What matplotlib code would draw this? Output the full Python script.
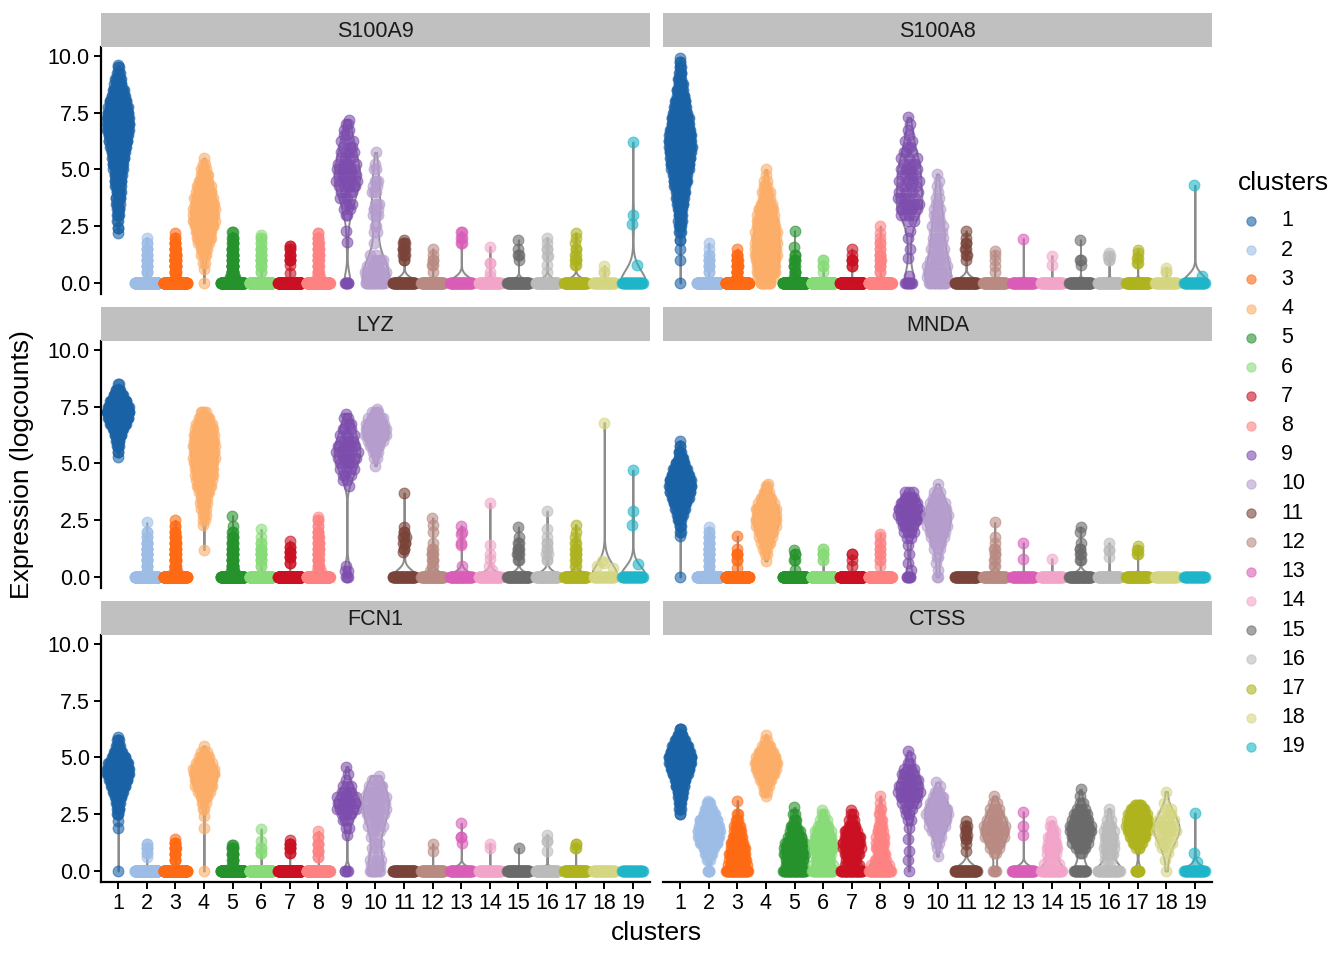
import numpy as np
import matplotlib
matplotlib.use("Agg")
import matplotlib.pyplot as plt

plt.rcParams['font.family'] = ['Liberation Sans', 'DejaVu Sans']

clusters = ["1", "2", "3", "4", "5", "6", "7", "8", "9", "10",
            "11", "12", "13", "14", "15", "16", "17", "18", "19"]
cluster_colors = ["#1A62A6", "#9DBDE6", "#FF6A14", "#FDAE68", "#25922B", "#88DC78",
                  "#CA1022", "#FF8282", "#7D4DAE", "#B59DCD", "#7A4339", "#B98A82",
                  "#DA5DB8", "#F2A5C9", "#6A6A6A", "#BBBBBB", "#AEB31E", "#D5D681",
                  "#1EB5C9"]
genes = ["S100A9", "S100A8", "LYZ", "MNDA", "FCN1", "CTSS"]

# each cluster: list of (logcounts value, number of cells)
s100a9 = [
    [(2.2, 1), (2.4, 2), (2.75, 2), (3.0, 4), (3.25, 4), (3.5, 5), (3.75, 6), (4.0, 7), (4.25, 8),
     (4.5, 9), (4.75, 10), (5.0, 12), (5.25, 14), (5.5, 16), (5.75, 18), (6.0, 21), (6.25, 24),
     (6.5, 27), (6.75, 29), (7.0, 30), (7.25, 30), (7.5, 29), (7.75, 26), (8.0, 22), (8.25, 18),
     (8.5, 14), (8.75, 10), (9.0, 7), (9.25, 4), (9.5, 2), (9.6, 1)],
    [(0, 300), (0.5, 3), (0.75, 4), (1.0, 4), (1.25, 3), (1.5, 3), (1.75, 2), (2.0, 1)],
    [(0, 300), (0.25, 2), (0.5, 6), (0.75, 10), (1.0, 12), (1.25, 10), (1.5, 6), (1.75, 4), (2.0, 2), (2.2, 1)],
    [(0, 1), (0.6, 1), (0.9, 2), (1.25, 4), (1.5, 6), (1.75, 8), (2.0, 11), (2.25, 13), (2.5, 15),
     (2.75, 16), (3.0, 17), (3.25, 16), (3.5, 15), (3.75, 14), (4.0, 12), (4.25, 10), (4.5, 8),
     (4.75, 6), (5.0, 4), (5.25, 2), (5.5, 1)],
    [(0, 250), (0.25, 8), (0.5, 10), (0.75, 10), (1.0, 8), (1.25, 7), (1.5, 5), (1.75, 4), (2.0, 3), (2.25, 2)],
    [(0, 220), (0.5, 2), (0.75, 3), (1.0, 4), (1.25, 3), (1.5, 3), (1.75, 2), (2.0, 2), (2.1, 1)],
    [(0, 200), (0.45, 1), (0.8, 1), (1.0, 3), (1.25, 3), (1.5, 2), (1.65, 2)],
    [(0, 200), (0.25, 3), (0.5, 4), (0.75, 5), (1.0, 5), (1.25, 5), (1.5, 5), (1.75, 4), (2.0, 3), (2.2, 2)],
    [(0, 6), (1.8, 1), (2.3, 1), (3.0, 2), (3.25, 2), (3.5, 3), (3.75, 3), (4.0, 4), (4.25, 5), (4.5, 6),
     (4.75, 6), (5.0, 6), (5.25, 5), (5.5, 4), (5.75, 4), (6.0, 3), (6.25, 3), (6.5, 2), (6.75, 2),
     (7.0, 2), (7.2, 1)],
    [(0, 20), (0.25, 8), (0.5, 8), (0.75, 6), (1.0, 5), (1.25, 2), (1.75, 1), (2.25, 2), (2.5, 2),
     (3.0, 3), (3.25, 3), (3.5, 3), (4.0, 3), (4.25, 2), (4.5, 3), (5.0, 2), (5.25, 1), (5.75, 1)],
    [(0, 60), (1.0, 2), (1.25, 3), (1.5, 4), (1.75, 3), (1.9, 1)],
    [(0, 70), (0.5, 1), (0.8, 2), (1.0, 2), (1.25, 1), (1.5, 1)],
    [(0, 50), (1.75, 2), (2.0, 2), (2.25, 2)],
    [(0, 50), (0.3, 1), (0.5, 1), (0.9, 2), (1.6, 1)],
    [(0, 60), (1.0, 1), (1.25, 2), (1.5, 1), (1.9, 1)],
    [(0, 60), (0.5, 1), (0.8, 1), (1.2, 2), (1.5, 2), (1.75, 1), (2.0, 1)],
    [(0, 70), (0.8, 2), (1.0, 3), (1.25, 2), (1.5, 2), (1.75, 1), (2.0, 1), (2.2, 1)],
    [(0, 40), (0.5, 2), (0.75, 1)],
    [(0, 30), (0.8, 1), (2.6, 1), (3.0, 1), (6.2, 1)],
]

s100a8 = [
    [(0, 1), (1.0, 1), (1.5, 1), (1.9, 2), (2.25, 3), (2.5, 4), (2.75, 5), (3.0, 6), (3.25, 7), (3.5, 9),
     (3.75, 11), (4.0, 13), (4.25, 15), (4.5, 18), (4.75, 21), (5.0, 24), (5.25, 27), (5.5, 29),
     (5.75, 31), (6.0, 32), (6.25, 32), (6.5, 31), (6.75, 29), (7.0, 26), (7.25, 23), (7.5, 20),
     (7.75, 17), (8.0, 14), (8.25, 11), (8.5, 9), (8.75, 7), (9.0, 5), (9.25, 4), (9.5, 3), (9.75, 2), (9.9, 1)],
    [(0, 300), (0.5, 2), (0.75, 3), (1.0, 3), (1.25, 2), (1.5, 1), (1.75, 1)],
    [(0, 300), (0.25, 4), (0.5, 6), (0.75, 6), (1.0, 5), (1.25, 3), (1.5, 1)],
    [(0, 12), (0.25, 10), (0.5, 12), (0.75, 13), (1.0, 14), (1.25, 14), (1.5, 14), (1.75, 14), (2.0, 14),
     (2.25, 13), (2.5, 13), (2.75, 12), (3.0, 11), (3.25, 10), (3.5, 8), (3.75, 6), (4.0, 5), (4.25, 3),
     (4.5, 2), (4.75, 1), (5.0, 1)],
    [(0, 250), (0.25, 2), (0.5, 3), (0.75, 3), (1.0, 3), (1.25, 2), (1.6, 1), (2.3, 1)],
    [(0, 220), (0.5, 1), (0.75, 2), (1.0, 2)],
    [(0, 200), (0.75, 2), (1.0, 3), (1.25, 1), (1.5, 1)],
    [(0, 200), (0.5, 2), (0.75, 3), (1.0, 3), (1.25, 3), (1.5, 2), (1.75, 2), (2.0, 1), (2.2, 1), (2.5, 1)],
    [(0, 8), (0.3, 1), (1.1, 1), (1.5, 1), (2.0, 1), (2.3, 1), (2.75, 2), (3.0, 4), (3.25, 6), (3.5, 6),
     (3.75, 5), (4.0, 4), (4.25, 4), (4.5, 4), (4.75, 5), (5.0, 5), (5.25, 4), (5.5, 3), (5.75, 3),
     (6.0, 2), (6.25, 2), (6.5, 1), (6.75, 1), (7.0, 1), (7.3, 1)],
    [(0, 15), (0.25, 8), (0.5, 7), (0.75, 6), (1.0, 5), (1.25, 5), (1.5, 4), (1.75, 4), (2.0, 4), (2.25, 3),
     (2.5, 3), (2.75, 3), (3.0, 3), (3.25, 2), (3.5, 2), (3.75, 2), (4.0, 1), (4.25, 1), (4.5, 1), (4.8, 1)],
    [(0, 60), (1.0, 1), (1.25, 2), (1.5, 2), (1.75, 2), (2.0, 1), (2.3, 1)],
    [(0, 70), (0.5, 1), (0.75, 1), (1.0, 1), (1.25, 1), (1.4, 1)],
    [(0, 50), (1.95, 1)],
    [(0, 50), (0.8, 1), (1.2, 1)],
    [(0, 60), (0.8, 1), (1.0, 2), (1.9, 1)],
    [(0, 60), (1.0, 2), (1.2, 2), (1.3, 1)],
    [(0, 70), (0.9, 2), (1.1, 2), (1.3, 1), (1.45, 1)],
    [(0, 40), (0.5, 2), (0.65, 1)],
    [(0, 30), (0.3, 1), (4.3, 1)],
]

lyz = [
    [(5.3, 1), (5.5, 2), (5.75, 4), (6.0, 7), (6.25, 12), (6.5, 20), (6.75, 30), (7.0, 40), (7.25, 45),
     (7.5, 42), (7.75, 32), (8.0, 18), (8.25, 8), (8.5, 2)],
    [(0, 300), (0.25, 2), (0.5, 3), (0.75, 5), (1.0, 6), (1.25, 5), (1.5, 4), (1.75, 2), (2.0, 2), (2.4, 1)],
    [(0, 300), (0.25, 4), (0.5, 6), (0.75, 8), (1.0, 8), (1.25, 7), (1.5, 6), (1.75, 4), (2.0, 3), (2.25, 2), (2.5, 1)],
    [(1.2, 1), (2.3, 1), (2.5, 2), (2.75, 3), (3.0, 4), (3.25, 5), (3.5, 6), (3.75, 8), (4.0, 10), (4.25, 12),
     (4.5, 13), (4.75, 14), (5.0, 15), (5.25, 16), (5.5, 16), (5.75, 16), (6.0, 15), (6.25, 15), (6.5, 14),
     (6.75, 12), (7.0, 9), (7.25, 4)],
    [(0, 250), (0.25, 6), (0.5, 7), (0.75, 7), (1.0, 6), (1.25, 5), (1.5, 4), (1.75, 3), (2.0, 2), (2.25, 1), (2.7, 1)],
    [(0, 220), (0.5, 2), (0.75, 3), (1.0, 4), (1.25, 3), (1.5, 2), (1.75, 1), (2.1, 1)],
    [(0, 200), (0.6, 2), (0.9, 3), (1.1, 3), (1.3, 2), (1.6, 1)],
    [(0, 200), (0.25, 3), (0.5, 4), (0.75, 5), (1.0, 5), (1.25, 5), (1.5, 5), (1.75, 4), (2.0, 3), (2.25, 2),
     (2.5, 2), (2.65, 1)],
    [(0, 3), (0.25, 2), (0.5, 1), (4.0, 1), (4.25, 2), (4.5, 3), (4.75, 4), (5.0, 5), (5.25, 6), (5.5, 7),
     (5.75, 6), (6.0, 5), (6.25, 4), (6.5, 3), (6.75, 3), (7.0, 2), (7.2, 1)],
    [(4.9, 1), (5.25, 2), (5.5, 4), (5.75, 6), (6.0, 9), (6.25, 12), (6.5, 13), (6.75, 11), (7.0, 8), (7.25, 4), (7.4, 1)],
    [(0, 55), (1.1, 1), (1.25, 2), (1.5, 3), (1.75, 3), (2.0, 2), (2.2, 1), (3.7, 1)],
    [(0, 65), (0.25, 1), (0.5, 2), (0.75, 3), (1.0, 3), (1.25, 2), (1.5, 1), (2.0, 1), (2.3, 1), (2.6, 1)],
    [(0, 50), (0.5, 1), (1.4, 1), (1.5, 1), (1.9, 1), (2.0, 1), (2.25, 1)],
    [(0, 50), (0.3, 1), (0.5, 1), (0.8, 1), (1.0, 1), (1.4, 1), (3.25, 1)],
    [(0, 60), (0.75, 2), (1.0, 3), (1.25, 3), (1.5, 2), (1.75, 1), (2.2, 1)],
    [(0, 60), (0.75, 2), (1.0, 2), (1.25, 2), (1.5, 2), (1.75, 1), (2.1, 1), (2.9, 1)],
    [(0, 70), (0.5, 2), (0.75, 3), (1.0, 3), (1.25, 3), (1.5, 2), (1.75, 1), (2.0, 1), (2.3, 1)],
    [(0, 30), (0.4, 1), (0.5, 1), (0.6, 1), (0.7, 1), (6.8, 1)],
    [(0, 30), (0.55, 1), (2.3, 1), (2.9, 1), (4.7, 1)],
]

mnda = [
    [(0, 1), (1.8, 1), (2.0, 2), (2.25, 3), (2.5, 5), (2.75, 8), (3.0, 12), (3.25, 17), (3.5, 23), (3.75, 28),
     (4.0, 31), (4.25, 30), (4.5, 25), (4.75, 18), (5.0, 12), (5.25, 7), (5.5, 4), (5.75, 2), (6.0, 1)],
    [(0, 300), (0.25, 2), (0.5, 3), (0.75, 4), (1.0, 5), (1.25, 5), (1.5, 4), (1.75, 3), (2.0, 2), (2.2, 1)],
    [(0, 300), (0.4, 1), (0.75, 2), (1.0, 3), (1.25, 1), (1.8, 1)],
    [(0.7, 1), (1.0, 2), (1.25, 3), (1.5, 5), (1.75, 7), (2.0, 9), (2.25, 11), (2.5, 12), (2.75, 12),
     (3.0, 11), (3.25, 9), (3.5, 6), (3.75, 4), (4.0, 2), (4.1, 1)],
    [(0, 250), (0.3, 1), (0.75, 2), (1.0, 2), (1.2, 1)],
    [(0, 220), (0.75, 2), (1.0, 3), (1.25, 2)],
    [(0, 200), (0.5, 1), (0.75, 1), (1.0, 2)],
    [(0, 200), (0.5, 1), (0.75, 2), (1.0, 2), (1.25, 2), (1.5, 2), (1.75, 1), (1.9, 1)],
    [(0, 6), (0.3, 1), (0.6, 1), (1.0, 1), (1.4, 1), (1.7, 2), (2.0, 4), (2.25, 6), (2.5, 8), (2.75, 9),
     (3.0, 9), (3.25, 8), (3.5, 6), (3.75, 3)],
    [(0, 2), (0.3, 1), (0.6, 1), (0.9, 2), (1.25, 3), (1.5, 4), (1.75, 5), (2.0, 7), (2.25, 8), (2.5, 9),
     (2.75, 9), (3.0, 8), (3.25, 6), (3.5, 4), (3.75, 3), (4.1, 1)],
    [(0, 60)],
    [(0, 65), (0.5, 2), (0.75, 2), (1.0, 2), (1.25, 2), (1.5, 1), (1.75, 1), (2.4, 1)],
    [(0, 50), (0.8, 1), (1.5, 1)],
    [(0, 50), (0.8, 1)],
    [(0, 60), (0.75, 2), (1.0, 2), (1.25, 2), (1.5, 1), (2.0, 1), (2.2, 1)],
    [(0, 60), (0.9, 1), (1.2, 2), (1.5, 1)],
    [(0, 70), (1.0, 2), (1.2, 2), (1.35, 1)],
    [(0, 40)],
    [(0, 30)],
]

fcn1 = [
    [(0, 1), (1.9, 1), (2.2, 1), (2.5, 3), (2.75, 5), (3.0, 7), (3.25, 10), (3.5, 15), (3.75, 22), (4.0, 30),
     (4.25, 36), (4.5, 38), (4.75, 32), (5.0, 22), (5.25, 12), (5.5, 6), (5.75, 3), (5.9, 1)],
    [(0, 300), (0.6, 1), (0.8, 2), (1.0, 3), (1.2, 2)],
    [(0, 300), (0.5, 3), (0.75, 4), (1.0, 5), (1.25, 3), (1.4, 1)],
    [(0, 1), (1.9, 1), (2.4, 1), (2.75, 2), (3.0, 3), (3.25, 5), (3.5, 8), (3.75, 11), (4.0, 14), (4.25, 15),
     (4.5, 14), (4.75, 11), (5.0, 7), (5.25, 3), (5.5, 1)],
    [(0, 250), (0.25, 2), (0.5, 4), (0.75, 5), (1.0, 4), (1.15, 2)],
    [(0, 220), (0.8, 2), (1.0, 2), (1.3, 1), (1.85, 1)],
    [(0, 200), (0.8, 2), (1.0, 3), (1.2, 3), (1.35, 1)],
    [(0, 200), (0.6, 2), (0.9, 3), (1.2, 3), (1.5, 2), (1.75, 1)],
    [(0, 4), (1.6, 1), (1.9, 2), (2.25, 3), (2.5, 4), (2.75, 6), (3.0, 8), (3.25, 6), (3.5, 4), (3.75, 3),
     (4.0, 1), (4.25, 1), (4.6, 1)],
    [(0, 10), (0.25, 4), (0.5, 3), (0.75, 2), (1.0, 2), (1.25, 2), (1.5, 2), (1.75, 3), (2.0, 4), (2.25, 5),
     (2.5, 6), (2.75, 7), (3.0, 7), (3.25, 7), (3.5, 6), (3.75, 5), (4.0, 3), (4.2, 1)],
    [(0, 60)],
    [(0, 65), (0.9, 1), (1.2, 1)],
    [(0, 50), (1.25, 1), (1.5, 2), (2.1, 1)],
    [(0, 50), (1.0, 1), (1.2, 1)],
    [(0, 60), (1.0, 1)],
    [(0, 60), (0.9, 1), (1.3, 2), (1.6, 1)],
    [(0, 70), (1.0, 2), (1.2, 2)],
    [(0, 40)],
    [(0, 30)],
]

ctss = [
    [(2.5, 2), (2.75, 3), (3.0, 5), (3.25, 7), (3.5, 10), (3.75, 14), (4.0, 19), (4.25, 25), (4.5, 32),
     (4.75, 38), (5.0, 40), (5.25, 35), (5.5, 26), (5.75, 16), (6.0, 8), (6.25, 3)],
    [(0, 5), (0.5, 3), (0.75, 8), (1.0, 14), (1.25, 20), (1.5, 25), (1.75, 26), (2.0, 24), (2.25, 20),
     (2.5, 14), (2.75, 8), (3.0, 4), (3.1, 1)],
    [(0, 40), (0.25, 10), (0.5, 14), (0.75, 16), (1.0, 15), (1.25, 12), (1.5, 9), (1.75, 7), (2.0, 5),
     (2.25, 3), (2.5, 2), (3.1, 1)],
    [(3.3, 1), (3.5, 3), (3.75, 6), (4.0, 10), (4.25, 15), (4.5, 19), (4.75, 21), (5.0, 19), (5.25, 14),
     (5.5, 7), (5.75, 2), (6.0, 1)],
    [(0, 35), (0.25, 8), (0.5, 14), (0.75, 18), (1.0, 18), (1.25, 15), (1.5, 11), (1.75, 8), (2.0, 5),
     (2.25, 3), (2.5, 2), (2.8, 1)],
    [(0, 30), (0.25, 5), (0.5, 8), (0.75, 11), (1.0, 13), (1.25, 13), (1.5, 12), (1.75, 10), (2.0, 7),
     (2.25, 4), (2.5, 2), (2.7, 1)],
    [(0, 35), (0.25, 4), (0.5, 7), (0.75, 10), (1.0, 13), (1.25, 14), (1.5, 12), (1.75, 9), (2.0, 6),
     (2.25, 3), (2.5, 2), (2.7, 1)],
    [(0, 45), (0.25, 5), (0.5, 6), (0.75, 7), (1.0, 7), (1.25, 7), (1.5, 6), (1.75, 5), (2.0, 4), (2.25, 3),
     (2.5, 2), (2.75, 2), (3.0, 1), (3.3, 1)],
    [(0, 1), (0.5, 1), (0.9, 1), (1.4, 1), (1.9, 1), (2.25, 2), (2.5, 2), (2.75, 3), (3.0, 5), (3.25, 7),
     (3.5, 8), (3.75, 8), (4.0, 7), (4.25, 5), (4.5, 4), (4.75, 2), (5.0, 1), (5.3, 1)],
    [(0.65, 1), (1.0, 1), (1.25, 2), (1.5, 3), (1.75, 5), (2.0, 7), (2.25, 9), (2.5, 10), (2.75, 9),
     (3.0, 7), (3.25, 5), (3.5, 3), (3.75, 1), (3.9, 1)],
    [(0, 50), (0.9, 1), (1.2, 1), (1.4, 2), (1.6, 2), (1.8, 2), (2.0, 2), (2.2, 1)],
    [(0, 4), (0.8, 2), (1.0, 3), (1.25, 5), (1.5, 7), (1.75, 8), (2.0, 7), (2.25, 6), (2.5, 4), (2.75, 3),
     (3.0, 2), (3.3, 1)],
    [(0, 50), (1.6, 1), (2.0, 1), (2.6, 1)],
    [(0, 30), (0.3, 2), (0.5, 4), (0.75, 6), (1.0, 7), (1.25, 6), (1.5, 5), (1.75, 3), (2.0, 2), (2.2, 1)],
    [(0, 20), (0.8, 2), (1.0, 5), (1.25, 8), (1.5, 11), (1.75, 12), (2.0, 11), (2.25, 9), (2.5, 7),
     (2.75, 4), (3.0, 2), (3.3, 1), (3.6, 1)],
    [(0, 35), (0.5, 3), (0.75, 5), (1.0, 6), (1.25, 6), (1.5, 6), (1.75, 5), (2.0, 4), (2.25, 2), (2.5, 1), (2.75, 1)],
    [(0, 10), (1.0, 3), (1.25, 8), (1.5, 14), (1.75, 18), (2.0, 20), (2.25, 19), (2.5, 16), (2.75, 12), (2.9, 6)],
    [(0, 1), (0.5, 1), (0.8, 1), (1.0, 2), (1.25, 3), (1.5, 4), (1.75, 5), (2.0, 5), (2.25, 4), (2.5, 3),
     (2.75, 2), (3.0, 1), (3.5, 1)],
    [(0, 30), (0.4, 1), (0.8, 1), (2.55, 1)],
]

expr = {"S100A9": s100a9, "S100A8": s100a8, "LYZ": lyz,
        "MNDA": mnda, "FCN1": fcn1, "CTSS": ctss}


def nrd0(y):
    # R's bw.nrd0
    n = len(y)
    hi = np.std(y, ddof=1) if n > 1 else 0.0
    q75, q25 = np.percentile(y, [75, 25])
    lo = min(hi, (q75 - q25) / 1.34)
    if lo == 0:
        lo = hi or abs(y[0]) or 1.0
    return 0.9 * lo * n ** -0.2


def kde(y, at, bw):
    z = (at[:, None] - y[None, :]) / bw
    return np.exp(-0.5 * z * z).sum(axis=1)


def van_der_corput(n):
    out = np.zeros(n)
    for i in range(n):
        k, f, v = i + 1, 0.5, 0.0
        while k:
            v += f * (k & 1)
            k >>= 1
            f /= 2
        out[i] = v
    return out


def quasirandom(y, width=0.4):
    """deterministic offsets like ggbeeswarm's quasirandom"""
    if len(y) < 2:
        return np.zeros(len(y))
    if y.max() == y.min():
        dens = np.ones(len(y))
    else:
        dens = kde(y, y, nrd0(y))
    dens = dens / dens.max()
    order = np.argsort(y, kind="stable")
    ranks = np.empty(len(y), dtype=int)
    ranks[order] = np.arange(len(y))
    vdc = van_der_corput(len(y))
    return (vdc[ranks] - 0.5) * 2 * width * dens


W, H = 1344, 960
fig = plt.figure(figsize=(W / 100, H / 100), dpi=100)

col_x = [101, 663]
panel_w = 549
row_top = [47, 341, 635]
panel_h = 247.2
strip_h = 34
tick_size = 15.5
title_size = 19

for gi, gene in enumerate(genes):
    r, c = divmod(gi, 2)
    x0 = col_x[c] / W
    y0 = (H - row_top[r] - panel_h) / H
    ax = fig.add_axes([x0, y0, panel_w / W, panel_h / H])
    sax = fig.add_axes([x0, (H - row_top[r]) / H, panel_w / W, strip_h / H])
    sax.set_facecolor("#C0C0C0")
    sax.set_xticks([])
    sax.set_yticks([])
    for sp in sax.spines.values():
        sp.set_visible(False)
    sax.text(0.5, 0.45, gene, ha="center", va="center", fontsize=tick_size,
             color="#1A1A1A", transform=sax.transAxes)

    for k, hist in enumerate(expr[gene]):
        vals = np.repeat([v for v, n in hist], [n for v, n in hist]).astype(float)
        pos = k + 1
        col = cluster_colors[k]
        if vals.max() > vals.min():
            grid = np.linspace(vals.min(), vals.max(), 512)
            d = kde(vals, grid, nrd0(vals))
            w = d / d.max() * 0.45
            ax.fill_betweenx(grid, pos - w, pos + w, facecolor=(0.9, 0.9, 0.9, 0.2),
                             edgecolor="#8C8C8C", linewidth=1.4, zorder=1)
        off = quasirandom(vals)
        ax.scatter(pos + off, vals, s=60, color=col, alpha=0.6, edgecolors=col,
                   linewidths=0.8, zorder=2)

    ax.set_xlim(0.4, 19.6)
    ax.set_ylim(-0.495, 10.395)
    for sp in ["top", "right"]:
        ax.spines[sp].set_visible(False)
    ax.spines["left"].set_linewidth(1.6)
    ax.spines["bottom"].set_linewidth(1.6)
    ax.tick_params(length=5, width=1.4, labelsize=tick_size, colors="black", pad=3)
    if c == 0:
        ax.set_yticks([0, 2.5, 5, 7.5, 10])
        ax.set_yticklabels(["0.0", "2.5", "5.0", "7.5", "10.0"])
    else:
        ax.spines["left"].set_visible(False)
        ax.set_yticks([])
    if r == 2:
        ax.set_xticks(range(1, 20))
        ax.set_xticklabels(clusters)
    else:
        ax.spines["bottom"].set_visible(False)
        ax.set_xticks([])

fig.text(22 / W, (H - 465) / H, "Expression (logcounts)", rotation=90,
         ha="center", va="center", fontsize=title_size)
fig.text(656 / W, (H - 933) / H, "clusters", ha="center", va="center", fontsize=title_size)

# legend drawn in pixel coordinates
lax = fig.add_axes([0, 0, 1, 1], facecolor="none")
lax.set_xlim(0, W)
lax.set_ylim(H, 0)
lax.axis("off")
lax.text(1238, 183, "clusters", ha="left", va="center", fontsize=title_size)
for k, lab in enumerate(clusters):
    yy = 221 + 29.22 * k
    lax.scatter([1251], [yy], s=44, color=cluster_colors[k], alpha=0.6,
                edgecolors=cluster_colors[k], linewidths=0.8)
    lax.text(1281, yy, lab, ha="left", va="center", fontsize=tick_size)

fig.savefig("out.png", dpi=100)
